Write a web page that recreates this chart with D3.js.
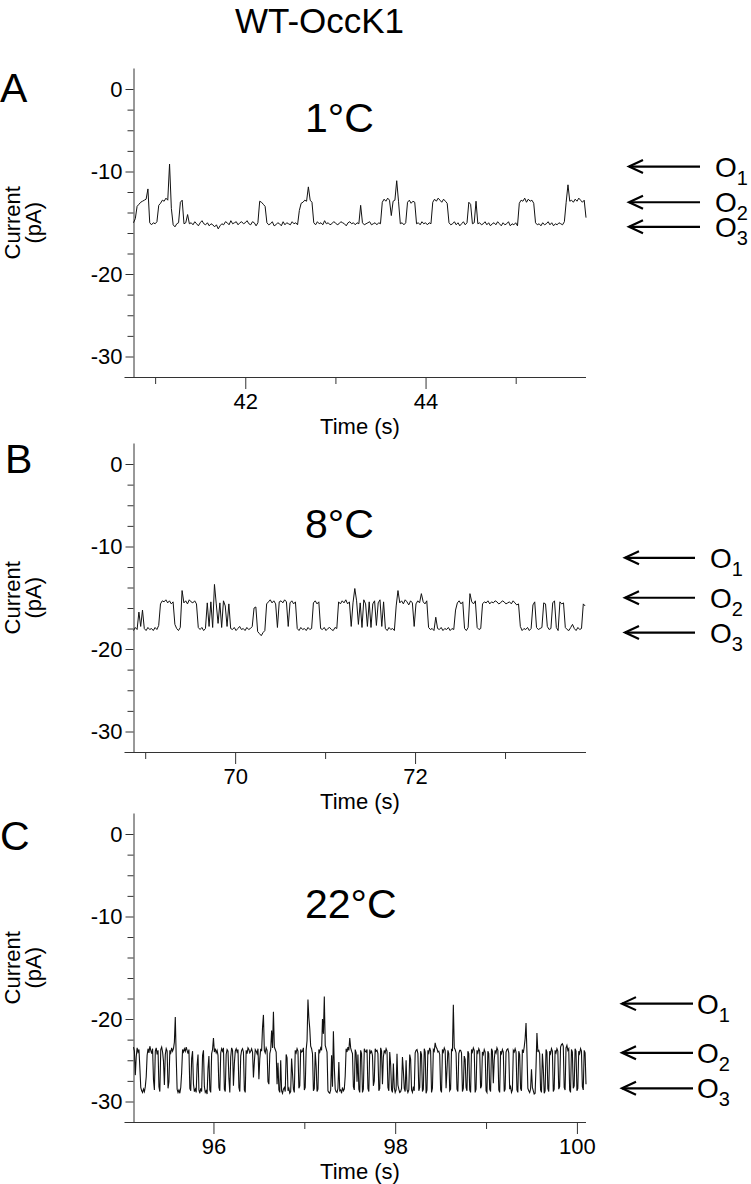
<!DOCTYPE html>
<html>
<head>
<meta charset="utf-8">
<script src="https://cdn.jsdelivr.net/npm/d3@7"></script>
<style>
body { margin: 0; background: #fff; }
svg text { font-family: "Liberation Sans", Arial, sans-serif; fill: #000; }
</style>
</head>
<body>
<div class="chart"></div>
<script>
/* DATA */
var title = "WT-OccK1";
var panelLetters = ["A", "B", "C"];
var temperatures = ["1°C", "8°C", "22°C"];

// y axis (pA): labelled ticks and the small ticks in between
var yMajor = [0, -10, -20, -30];
var yMinor = [-2.5, -5, -7.5, -12, -14, -16, -18, -22.5, -25, -27.5];
var yExtent = [2.5, 0, -10, -20, -30, -32.5];

// time axes (s)
var timeRanges = [[40.76, 45.78], [68.87, 73.9], [95.12, 100.1]];
var timeMajor = [[42, 44], [70, 72], [96, 98, 100]];
var timeMinor = [[41, 43, 45], [69, 71, 73], [97, 99]];

// sampled traces : first sample time, sample step (s), current (pA)
var startA = 40.76, stepA = 0.02;
var currentA = [
-15.0,-14.6,-13.4,-13.2,-13.0,-12.9,-12.8,-12.7,-11.7,-15.0,
-15.2,-15.0,-15.1,-14.9,-13.3,-13.1,-12.8,-12.9,-12.6,-12.8,
-9.1,-13.6,-15.2,-15.4,-15.1,-15.0,-13.0,-12.8,-15.1,-15.0,
-14.2,-15.1,-15.0,-15.2,-14.9,-15.1,-15.3,-15.0,-14.8,-15.1,
-15.2,-15.0,-15.3,-15.1,-15.2,-15.4,-15.2,-15.6,-15.3,-15.1,
-15.2,-14.9,-15.0,-15.2,-14.8,-15.1,-15.0,-14.9,-15.2,-15.0,
-14.9,-15.1,-15.0,-14.8,-15.1,-15.2,-14.9,-15.0,-15.3,-15.0,
-12.9,-13.0,-13.2,-13.4,-15.0,-15.2,-15.1,-14.9,-15.3,-15.2,
-15.0,-15.1,-15.3,-14.9,-15.2,-15.0,-15.1,-15.2,-14.9,-15.1,
-15.0,-15.2,-13.8,-13.1,-13.0,-12.8,-12.9,-11.5,-12.8,-13.0,
-15.0,-15.2,-14.9,-15.1,-15.0,-15.2,-14.8,-15.1,-15.0,-15.2,
-15.1,-14.9,-15.0,-15.2,-15.1,-14.9,-15.0,-15.1,-15.3,-15.0,
-14.9,-15.1,-15.0,-15.2,-15.0,-15.1,-13.3,-15.0,-15.2,-15.1,
-15.0,-14.9,-15.2,-15.1,-15.0,-15.2,-15.0,-15.1,-13.0,-12.7,
-12.9,-12.6,-12.8,-14.3,-12.9,-12.8,-10.9,-12.9,-15.1,-15.0,
-15.2,-15.0,-13.0,-12.8,-13.1,-12.9,-13.0,-15.1,-15.0,-15.2,
-14.9,-15.1,-15.0,-15.2,-15.0,-15.1,-13.0,-12.7,-12.9,-12.6,
-12.8,-13.0,-12.7,-12.9,-13.1,-15.0,-15.2,-15.1,-14.9,-15.2,
-15.0,-15.3,-15.1,-14.9,-15.2,-15.0,-13.0,-13.2,-15.1,-15.0,
-12.9,-15.1,-15.0,-15.2,-15.1,-14.9,-15.2,-15.0,-15.3,-15.1,
-15.0,-15.2,-14.9,-15.1,-15.3,-15.0,-15.2,-15.1,-14.9,-15.3,
-15.1,-15.2,-15.0,-15.3,-13.1,-12.8,-12.9,-12.6,-13.0,-12.7,
-12.9,-12.8,-13.1,-15.0,-15.2,-15.1,-15.3,-15.0,-15.2,-15.1,
-14.9,-15.2,-15.0,-15.3,-15.1,-15.2,-15.0,-15.1,-15.2,-14.9,
-13.0,-11.3,-12.9,-12.8,-13.0,-12.7,-12.9,-12.6,-12.8,-13.0,
-12.8,-14.5
];

var startB = 68.87, stepB = 0.02;
var currentB = [
-18.2,-17.9,-18.1,-16.4,-17.8,-16.2,-18.0,-18.2,-17.9,-18.1,
-18.0,-18.2,-17.9,-18.1,-17.7,-15.6,-15.3,-15.4,-15.2,-15.5,
-15.3,-15.6,-15.4,-17.6,-18.0,-18.2,-17.9,-14.3,-15.5,-15.3,
-15.6,-15.2,-15.4,-15.5,-15.3,-15.6,-17.9,-18.1,-17.9,-18.2,
-18.0,-15.5,-17.8,-15.4,-17.9,-13.7,-15.6,-17.5,-15.5,-17.9,
-15.3,-15.8,-17.8,-15.6,-18.0,-18.1,-17.9,-18.2,-18.0,-17.8,
-18.1,-18.0,-18.2,-17.9,-18.1,-18.0,-17.8,-16.0,-15.9,-18.3,
-18.5,-18.7,-18.4,-18.2,-15.6,-15.4,-15.2,-15.5,-15.3,-15.6,
-17.9,-15.4,-15.3,-15.5,-15.2,-15.4,-17.8,-15.5,-15.3,-15.6,
-15.4,-18.0,-18.2,-17.9,-18.1,-18.0,-18.2,-17.9,-18.1,-18.0,
-15.5,-15.3,-15.6,-15.4,-18.0,-18.1,-17.9,-18.2,-18.0,-17.9,
-18.1,-18.2,-17.9,-18.0,-15.4,-15.6,-15.3,-15.5,-15.2,-15.6,
-15.4,-17.8,-15.5,-14.1,-15.3,-17.6,-15.5,-17.9,-15.2,-15.6,
-17.8,-15.4,-17.9,-15.6,-15.3,-17.7,-15.5,-15.2,-17.8,-15.4,
-18.0,-18.2,-17.9,-18.1,-18.0,-18.2,-15.8,-14.3,-15.5,-15.3,
-15.6,-15.2,-15.4,-15.7,-15.3,-15.5,-17.8,-15.6,-15.3,-15.5,
-14.6,-15.4,-15.6,-15.3,-17.9,-18.1,-18.0,-18.2,-16.9,-18.0,
-18.1,-17.9,-18.2,-18.0,-18.1,-17.9,-18.2,-18.0,-18.1,-16.2,
-15.5,-15.3,-15.6,-15.4,-18.0,-18.2,-17.9,-14.6,-15.4,-15.6,
-15.3,-17.9,-18.1,-18.0,-15.6,-15.4,-15.5,-15.3,-15.6,-15.4,
-15.5,-15.3,-15.4,-15.6,-15.5,-15.3,-15.4,-15.6,-15.5,-15.4,
-15.6,-15.3,-15.5,-15.7,-15.6,-17.8,-18.2,-18.0,-18.1,-17.9,
-18.2,-18.0,-15.7,-15.4,-17.9,-18.1,-18.0,-17.9,-15.5,-15.6,
-17.8,-18.1,-18.0,-15.5,-15.3,-17.9,-18.2,-15.4,-15.6,-15.5,
-17.9,-18.1,-18.2,-17.9,-17.6,-18.0,-18.2,-17.9,-18.1,-18.0,
-15.6,-15.8
];

var startC = 95.12, stepC = 0.01;
var currentC = [
-23.4,-23.9,-26.8,-24.6,-23.5,-24.0,-23.7,-25.9,-28.3,-28.7,
-28.9,-28.5,-28.8,-28.2,-27.0,-24.4,-23.6,-24.1,-23.3,-23.8,
-24.2,-23.6,-27.4,-28.6,-23.9,-23.5,-24.3,-23.8,-28.2,-28.8,
-23.7,-23.4,-24.0,-25.1,-28.0,-24.3,-23.6,-23.9,-28.4,-27.6,
-23.8,-24.1,-23.5,-23.9,-23.6,-22.8,-19.8,-24.6,-28.5,-28.9,
-28.6,-29.0,-28.3,-26.5,-23.7,-24.0,-23.6,-23.9,-23.4,-23.8,
-24.2,-23.7,-28.4,-28.7,-24.8,-23.9,-27.9,-28.8,-28.5,-28.9,
-25.6,-24.3,-28.6,-29.0,-28.4,-28.8,-24.4,-23.8,-28.2,-28.9,
-28.7,-29.1,-26.0,-24.5,-28.6,-28.9,-24.2,-23.7,-22.3,-24.0,
-23.6,-24.1,-23.8,-24.4,-28.3,-28.7,-24.1,-23.6,-23.9,-23.5,
-28.5,-28.8,-24.3,-23.7,-23.9,-27.2,-28.9,-24.6,-23.5,-23.8,
-28.1,-25.4,-23.9,-23.6,-24.0,-23.7,-28.3,-28.8,-24.5,-23.8,
-23.6,-24.0,-28.6,-28.9,-23.8,-24.2,-23.5,-23.7,-24.1,-23.9,
-23.6,-24.0,-27.1,-25.2,-23.7,-23.9,-24.2,-23.6,-27.3,-24.8,
-23.6,-23.9,-21.0,-19.6,-23.8,-24.1,-23.5,-23.8,-27.6,-27.9,
-24.2,-23.7,-21.4,-23.5,-19.3,-23.4,-23.7,-24.0,-27.9,-25.3,
-28.6,-28.9,-25.0,-28.7,-29.0,-28.5,-28.3,-28.8,-24.3,-24.7,
-28.7,-28.4,-29.0,-28.8,-24.8,-26.6,-28.5,-28.9,-23.8,-24.1,
-23.6,-23.9,-28.4,-28.1,-23.7,-24.0,-23.9,-23.5,-28.6,-28.3,
-23.8,-22.6,-18.1,-19.9,-21.2,-23.3,-23.6,-24.2,-28.7,-28.4,
-24.0,-25.7,-28.8,-28.5,-23.7,-24.0,-23.5,-23.8,-20.0,-21.8,
-17.8,-23.2,-23.6,-24.0,-28.7,-28.9,-29.0,-28.6,-24.4,-28.2,
-21.5,-25.8,-28.5,-28.8,-28.9,-28.4,-25.2,-28.7,-28.6,-29.0,
-28.3,-28.7,-28.5,-26.9,-23.6,-24.0,-23.4,-23.8,-22.3,-23.5,
-23.9,-24.2,-28.2,-28.6,-23.7,-24.1,-27.6,-24.3,-28.5,-28.9,
-23.8,-24.2,-28.9,-28.5,-23.6,-23.9,-24.0,-23.7,-28.4,-28.8,
-23.7,-24.1,-23.9,-24.4,-28.1,-27.5,-23.6,-23.9,-23.8,-24.2,
-28.7,-28.4,-23.5,-23.9,-27.9,-24.6,-23.8,-24.1,-23.6,-23.9,
-28.3,-28.7,-24.0,-25.5,-28.6,-28.9,-25.4,-28.3,-28.9,-28.6,
-24.2,-28.0,-28.5,-28.9,-28.8,-28.4,-24.6,-26.3,-28.4,-28.8,
-25.0,-28.5,-28.9,-28.6,-24.3,-24.9,-28.6,-28.9,-28.2,-28.7,
-24.1,-23.8,-23.7,-24.2,-28.7,-28.3,-23.9,-24.3,-28.8,-28.5,
-23.6,-24.0,-29.0,-28.6,-23.8,-24.1,-23.5,-23.9,-28.9,-28.4,
-23.7,-23.9,-22.9,-23.4,-23.6,-24.0,-23.9,-24.3,-28.6,-28.9,
-23.7,-24.0,-23.5,-23.8,-28.4,-26.2,-23.8,-24.2,-28.7,-28.5,
-23.6,-23.9,-18.6,-23.5,-23.7,-24.1,-28.5,-28.8,-24.2,-23.8,
-23.8,-24.1,-28.8,-28.4,-24.5,-24.9,-28.3,-28.7,-23.9,-24.2,
-28.6,-28.9,-23.7,-24.0,-23.5,-23.8,-28.9,-28.5,-23.8,-24.1,
-23.6,-23.9,-28.4,-28.1,-24.0,-24.3,-23.7,-24.0,-28.7,-28.9,
-23.9,-24.2,-28.5,-28.8,-23.6,-23.9,-27.8,-25.0,-23.8,-24.1,
-23.5,-23.8,-28.6,-28.9,-23.9,-24.2,-23.7,-24.0,-28.8,-28.5,
-24.0,-23.7,-23.6,-24.1,-28.5,-28.2,-28.9,-28.6,-23.8,-24.0,
-23.6,-24.0,-28.6,-28.9,-23.9,-24.3,-28.4,-28.7,-23.7,-24.1,
-23.4,-22.4,-20.5,-24.0,-28.4,-28.7,-28.9,-28.5,-26.1,-28.3,
-28.7,-29.1,-29.0,-25.8,-21.7,-23.9,-23.8,-24.2,-28.6,-28.9,
-24.2,-26.0,-29.0,-28.7,-23.7,-24.0,-28.4,-28.8,-23.9,-24.2,
-23.6,-23.9,-28.8,-28.5,-23.8,-24.1,-23.6,-23.9,-28.5,-28.2,
-23.4,-23.1,-23.0,-23.3,-28.3,-28.6,-23.5,-23.2,-23.8,-23.6,
-28.6,-28.9,-23.7,-24.0,-28.4,-28.1,-23.6,-23.9,-28.7,-28.4,
-23.9,-24.2,-23.6,-23.9,-28.2,-28.6,-23.8,-24.1,-27.9
];

// conductance levels marked by the arrows (pA)
var levelNames = ["1", "2", "3"];
var levelsA = [-9.4, -13.0, -15.4];
var levelsB = [-11.1, -15.0, -18.4];
var levelsC = [-18.5, -24.1, -28.4];

var panels = [
  {start: startA, step: stepA, current: currentA, levels: levelsA},
  {start: startB, step: stepB, current: currentB, levels: levelsB},
  {start: startC, step: stepC, current: currentC, levels: levelsC}
];

/* LAYOUT (pixels) */
var layout = [
  {top: 68,  letterX: 0, letterY: 34, tempY: 64,  tip: 629, tail: 700, oX: 715},
  {top: 443, letterX: 5, letterY: 30, tempY: 95,  tip: 625, tail: 695, oX: 710},
  {top: 813, letterX: 0, letterY: 37, tempY: 105, tip: 622, tail: 693, oX: 697}
];
var plotLeft = 133.5, plotRight = 586, plotH = 309;
var yStops = [0, 21, 103.5, 206, 288.5, 309];

var svg = d3.select(".chart")
  .append("svg")
  .attr("width", 751)
  .attr("height", 1184);

svg.append("text")
  .attr("x", 319.5)
  .attr("y", 32.5)
  .attr("text-anchor", "middle")
  .attr("font-size", 35)
  .text(title);

panels.forEach(function(p, k) {
  var L = layout[k];
  var g = svg.append("g").attr("transform", "translate(0," + L.top + ")");

  var x = d3.scaleLinear().domain(timeRanges[k]).range([plotLeft, plotRight]);
  var y = d3.scaleLinear().domain(yExtent).range(yStops);

  /*Y AXIS*/
  var yAx = g.append("g")
    .attr("transform", "translate(" + plotLeft + ",0)")
    .call(d3.axisLeft(y).tickValues(yMajor).tickSize(8).tickSizeOuter(0).tickPadding(3)
      .tickFormat(function(d) { return String(d); }));
  yAx.attr("font-size", 22).attr("font-family", null).attr("color", "#333");
  yAx.selectAll("text").style("fill", "#000");

  g.append("g")
    .attr("transform", "translate(" + plotLeft + ",0)")
    .attr("color", "#333")
    .call(d3.axisLeft(y).tickValues(yMinor).tickSize(6).tickFormat(""))
    .select(".domain").remove();

  /*X AXIS*/
  var xAx = g.append("g")
    .attr("transform", "translate(0," + plotH + ")")
    .call(d3.axisBottom(x).tickValues(timeMajor[k]).tickSize(12).tickPadding(4)
      .tickFormat(function(d) { return String(d); }));
  xAx.select(".domain").remove();
  xAx.attr("font-size", 22).attr("font-family", null).attr("color", "#333");
  xAx.selectAll("text").style("fill", "#000");

  g.append("g")
    .attr("transform", "translate(0," + plotH + ")")
    .attr("color", "#333")
    .call(d3.axisBottom(x).tickValues(timeMinor[k]).tickSize(7).tickFormat(""))
    .select(".domain").remove();

  g.append("line")
    .attr("x1", plotLeft - 9).attr("x2", plotRight)
    .attr("y1", plotH + 0.5).attr("y2", plotH + 0.5)
    .attr("stroke", "#333");

  /*TRACE*/
  var line = d3.line()
    .x(function(d, i) { return x(p.start + i * p.step); })
    .y(function(d) { return y(d); });

  g.append("path")
    .datum(p.current)
    .attr("d", line)
    .attr("fill", "none")
    .attr("stroke", "#111")
    .attr("stroke-width", k == 2 ? 1.1 : 1);

  /*LABELS*/
  var lab = g.append("text")
    .attr("transform", "translate(20," + y(-15) + ") rotate(-90)")
    .attr("text-anchor", "middle")
    .attr("font-size", 22);
  lab.append("tspan").attr("x", 0).attr("dy", 0).text("Current");
  lab.append("tspan").attr("x", 0).attr("dy", 21).text("(pA)");

  g.append("text")
    .attr("x", 360)
    .attr("y", plotH + 57)
    .attr("text-anchor", "middle")
    .attr("font-size", 22)
    .text("Time (s)");

  g.append("text")
    .attr("x", L.letterX)
    .attr("y", L.letterY)
    .attr("font-size", 41)
    .text(panelLetters[k]);

  g.append("text")
    .attr("x", 305)
    .attr("y", L.tempY)
    .attr("font-size", 41)
    .text(temperatures[k]);

  /*ARROWS*/
  p.levels.forEach(function(v, j) {
    var yy = y(v);
    g.append("line")
      .attr("x1", L.tip).attr("x2", L.tail)
      .attr("y1", yy).attr("y2", yy)
      .attr("stroke", "#000").attr("stroke-width", 2.2);
    g.append("path")
      .attr("d", "M" + (L.tip + 14) + "," + (yy - 6.5) + "L" + L.tip + "," + yy + "L" + (L.tip + 14) + "," + (yy + 6.5))
      .attr("fill", "none").attr("stroke", "#000").attr("stroke-width", 2.2);
    var t = g.append("text")
      .attr("x", L.oX)
      .attr("y", yy + 10)
      .attr("font-size", 28)
      .text("O");
    t.append("tspan")
      .attr("dy", 8)
      .attr("font-size", 20)
      .text(levelNames[j]);
  });
});
</script>
</body>
</html>
